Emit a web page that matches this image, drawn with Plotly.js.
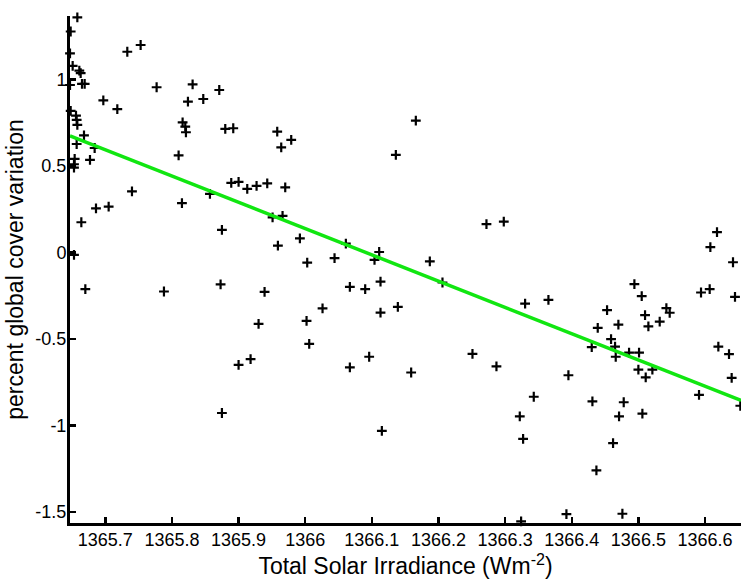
<!DOCTYPE html>
<html>
<head>
<meta charset="utf-8">
<script src="https://cdn.plot.ly/plotly-3.0.1.min.js"></script>
<style>html,body{margin:0;padding:0;background:#fff;}#chart{width:741px;height:583px;}</style>
</head>
<body>
<div id="chart"></div>
<script>
// Total Solar Irradiance (W m^-2) for each observation
const tsi = [1365.658,1365.648,1365.647,1365.651,1365.661,1365.663,1365.647,1365.665,1365.669,1365.697,
1365.718,1365.733,1365.753,1365.648,1365.656,1365.657,1365.658,1365.668,1365.657,1365.684,
1365.677,1365.654,1365.653,1365.653,1365.740,1365.777,1365.831,1365.824,1365.847,1365.871,
1365.816,1365.820,1365.821,1365.880,1365.892,1365.958,1365.979,1365.964,1366.166,1366.136,
1365.810,1365.857,1365.815,1365.889,1365.900,1365.913,1365.927,1365.943,1365.970,1365.951,
1365.966,1365.875,1365.992,1365.959,1366.003,1365.664,1365.686,1365.705,1365.653,1365.670,
1365.788,1365.873,1365.930,1365.900,1365.918,1365.875,1365.939,1366.061,1366.044,1366.111,
1366.104,1366.187,1366.206,1366.067,1366.090,1366.113,1366.026,1366.113,1366.139,1366.002,
1366.006,1366.067,1366.096,1366.159,1366.115,1366.251,1366.287,1366.272,1366.298,1366.330,
1366.365,1366.343,1366.322,1366.327,1366.395,1366.392,1366.431,1366.437,1366.430,1366.439,
1366.453,1366.459,1366.465,1366.466,1366.470,1366.494,1366.505,1366.510,1366.515,1366.532,
1366.542,1366.547,1366.486,1366.501,1366.500,1366.521,1366.511,1366.478,1366.471,1366.506,
1366.462,1366.476,1366.591,1366.594,1366.607,1366.618,1366.608,1366.642,1366.645,1366.620,
1366.636,1366.640,1366.653,1366.324];

// percent global cloud cover variation for each observation
const coverVariation = [1.357,1.276,1.150,1.077,1.050,1.035,0.967,0.973,0.973,0.878,
0.827,1.159,1.198,0.817,0.790,0.765,0.736,0.676,0.626,0.603,
0.534,0.540,0.509,0.490,0.352,0.954,0.971,0.871,0.886,0.938,
0.751,0.726,0.694,0.713,0.717,0.697,0.650,0.607,0.761,0.563,
0.560,0.338,0.284,0.401,0.407,0.367,0.384,0.398,0.375,0.202,
0.211,0.130,0.081,0.039,-0.059,0.174,0.254,0.264,-0.014,-0.212,
-0.226,-0.185,-0.413,-0.650,-0.617,-0.928,-0.228,0.051,-0.033,0.002,
-0.043,-0.052,-0.174,-0.199,-0.212,-0.169,-0.324,-0.348,-0.315,-0.396,
-0.529,-0.665,-0.603,-0.694,-1.031,-0.587,-0.659,0.163,0.178,-0.296,
-0.274,-0.834,-0.948,-1.077,-0.710,-1.512,-0.861,-1.260,-0.547,-0.436,
-0.334,-0.501,-0.544,-0.603,-0.417,-0.184,-0.253,-0.363,-0.428,-0.400,
-0.322,-0.349,-0.579,-0.579,-0.678,-0.678,-0.722,-0.866,-0.948,-0.932,
-1.102,-1.510,-0.823,-0.232,-0.212,0.117,0.030,-0.057,-0.257,-0.544,
-0.588,-0.725,-0.886,-1.554];

// fitted regression line (end points)
const fitX = [1365.647, 1366.654];
const fitY = [0.673, -0.855];

// tick labels
const xTickVals = [1365.7,1365.8,1365.9,1366,1366.1,1366.2,1366.3,1366.4,1366.5,1366.6];
const xTickText = ['1365.7','1365.8','1365.9','1366','1366.1','1366.2','1366.3','1366.4','1366.5','1366.6'];
const yTickVals = [-1.5,-1,-0.5,0,0.5,1];
const yTickText = ['-1.5','-1','-0.5','0','0.5','1'];

const FONT = 'Liberation Sans, Arial, Helvetica, sans-serif';

const traces = [
  {
    x: tsi, y: coverVariation, type: 'scatter', mode: 'markers',
    cliponaxis: false,
    marker: {symbol: 'cross-thin', size: 7, color: '#000', line: {width: 2.2, color: '#000'}},
    showlegend: false, hoverinfo: 'skip'
  },
  {
    x: fitX, y: fitY, type: 'scatter', mode: 'lines',
    line: {color: '#11e611', width: 3.5},
    showlegend: false, hoverinfo: 'skip'
  }
];

const axisCommon = {
  showgrid: false, zeroline: false, showline: true, linecolor: '#000', linewidth: 3,
  mirror: false, ticks: 'inside', ticklen: 6, tickwidth: 2.5, tickcolor: '#000',
  tickfont: {family: FONT, size: 18, color: '#000'}, tickmode: 'array'
};

const layout = {
  width: 741, height: 583,
  margin: {l: 70, r: 0, t: 16, b: 60},
  paper_bgcolor: '#fff', plot_bgcolor: '#fff',
  showlegend: false,
  xaxis: Object.assign({}, axisCommon, {
    range: [1365.647, 1366.654],
    tickvals: xTickVals, ticktext: xTickText,
    ticklabelstandoff: -2,
    title: {text: 'Total Solar Irradiance (Wm<sup>-2</sup>)', font: {family: FONT, size: 23, color: '#000'}, standoff: 6}
  }),
  yaxis: Object.assign({}, axisCommon, {
    range: [-1.5635, 1.3655],
    tickvals: yTickVals, ticktext: yTickText,
    ticklabelstandoff: -3,
    title: {text: 'percent global cover variation', font: {family: FONT, size: 23, color: '#000'}, standoff: 6}
  })
};

Plotly.newPlot('chart', traces, layout, {staticPlot: true, displayModeBar: false});
</script>
</body>
</html>
